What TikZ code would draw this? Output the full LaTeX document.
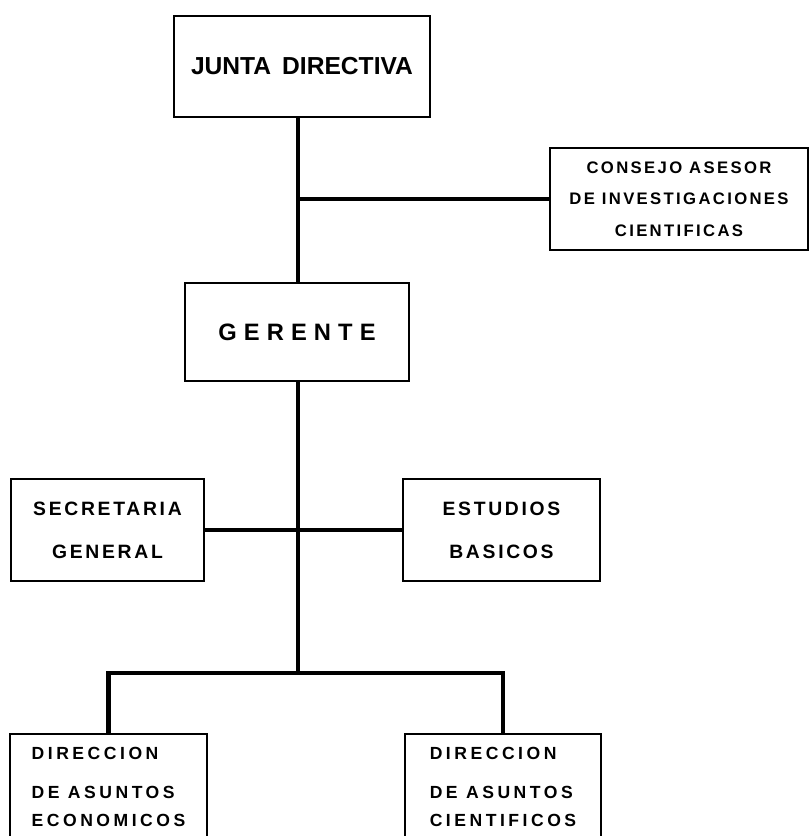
\documentclass[tikz,border=0pt]{standalone}
\usepackage{fontspec}
\setmainfont{Liberation Sans}
\newfontfamily\spacedA{Liberation Sans}[LetterSpace=14]
\newfontfamily\spacedB{Liberation Sans}[LetterSpace=30]
\newfontfamily\spacedC{Liberation Sans}[LetterSpace=20]

\begin{document}
\begin{tikzpicture}[
    x=0.02cm, y=-0.02cm,
    unit/.style={rectangle, draw, line width=1.1pt, inner sep=0pt, align=center},
    link/.style={line width=2.7pt, line join=miter}
  ]
  \useasboundingbox (0,0) rectangle (811,836);
  % Boxes
  \node[unit, minimum width=5.12cm, minimum height=2.02cm, font=\bfseries\fontsize{14}{16}\selectfont] (junta) at (302,66.5) {JUNTA\hspace{0.45em}DIRECTIVA};
  \node[unit, minimum width=5.16cm, minimum height=2.04cm, font=\bfseries\spacedA\fontsize{9.5}{17.9}\selectfont] (consejo) at (679,199) {CONSEJO ASESOR\\DE INVESTIGACIONES\\CIENTIFICAS};
  \node[unit, minimum width=4.48cm, minimum height=1.96cm, font=\bfseries\spacedB\fontsize{13.5}{16}\selectfont] (gerente) at (297,332) {GERENTE};
  \node[unit, minimum width=3.86cm, minimum height=2.04cm, font=\bfseries\spacedA\fontsize{11}{24.5}\selectfont] (secretaria) at (107.5,530) {SECRETARIA\\GENERAL};
  \node[unit, minimum width=3.94cm, minimum height=2.04cm, font=\bfseries\spacedA\fontsize{11}{24.5}\selectfont] (estudios) at (501.5,530) {ESTUDIOS\\BASICOS};
  \node[unit, align=left, minimum width=3.94cm, minimum height=2.12cm, font=\bfseries\spacedC\fontsize{10}{16}\selectfont] (dirEco) at (108.5,787) {DIRECCION\\[6pt]DE ASUNTOS\\ECONOMICOS};
  \node[unit, align=left, minimum width=3.92cm, minimum height=2.12cm, font=\bfseries\spacedC\fontsize{10}{16}\selectfont] (dirCie) at (503,787) {DIRECCION\\[6pt]DE ASUNTOS\\CIENTIFICOS};

  % Lines
  \coordinate (trunk) at (298,0);
  \coordinate (split) at (298,673);
  \draw[link] (junta.south -| trunk) -- (gerente.north -| trunk);
  \draw[link] (consejo.west -| trunk) -- (consejo.west);
  \draw[link] (gerente.south -| trunk) -- (split);
  \draw[link] (secretaria.east) -- (estudios.west);
  \draw[link] (dirEco.north) |- (split) -| (dirCie.north);
\end{tikzpicture}
\end{document}
